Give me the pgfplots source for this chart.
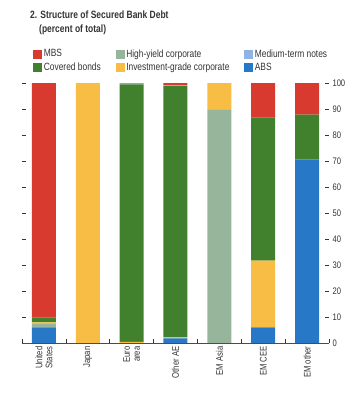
\documentclass[border=0pt]{standalone}
\usepackage{pgfplots}
\pgfplotsset{compat=1.18}
\usepackage{fontspec}
\setmainfont{Liberation Sans}[FakeStretch=0.8]
\definecolor{cMBS}{HTML}{D93A30}
\definecolor{cCov}{HTML}{41812E}
\definecolor{cHY}{HTML}{97B59A}
\definecolor{cIG}{HTML}{F8BD44}
\definecolor{cMTN}{HTML}{8DB4E2}
\definecolor{cABS}{HTML}{2878C8}
\definecolor{txt}{HTML}{333333}
\begin{document}
\begin{tikzpicture}[x=1pt,y=1pt]
\path[use as bounding box] (0,0) rectangle (364,400);
\node[anchor=base west,font=\bfseries\fontsize{10.6}{12}\selectfont,text=txt,inner sep=0] at (30,381) {2. Structure of Secured Bank Debt};
\node[anchor=base west,font=\bfseries\fontsize{10.6}{12}\selectfont,text=txt,inner sep=0] at (39,367) {(percent of total)};
\begin{axis}[
  at={(22pt,57pt)}, anchor=south west,
  scale only axis, width=307pt, height=260pt,
  ybar stacked, bar width=24pt,
  xmin=-0.5, xmax=6.5, ymin=0, ymax=100,
  axis x line*=bottom,
  y axis line style={draw=none},
  xtick={0,...,6},
  xticklabels={{United\\States},Japan,{Euro\\area},Other AE,EM Asia,EM CEE,EM other},
  major x tick style={draw=none},
  minor xtick={-0.5,0.5,...,6.5},
  minor tick length=4pt,
  tick align=inside,
  xticklabel style={rotate=90,anchor=east,align=right,font=\fontsize{9.6}{10}\selectfont,text=txt},
  ytick={0,10,...,100},
  ytick pos=both,
  yticklabel pos=right,
  major tick length=4pt,
  yticklabel style={font=\fontsize{9.5}{10}\selectfont,text=txt},
  /pgf/number format/assume math mode=true,
  tick style={color=black!80,line width=0.6pt},
  x axis line style={color=black!70,line width=0.6pt},
  legend columns=3,
  legend cell align=left,
  legend style={at={(rel axis cs:0.027,1.145)},anchor=north west,draw=none,fill=none,
    font=\fontsize{10.5}{11}\selectfont,text=txt,
    /tikz/every even column/.append style={column sep=13pt},
    row sep=0pt},
  legend image code/.code={\fill[#1] (0pt,-3.8pt) rectangle (8pt,4.2pt);},
]
\addlegendimage{cMBS,fill=cMBS}\addlegendentry{MBS}
\addlegendimage{cHY,fill=cHY}\addlegendentry{High-yield corporate}
\addlegendimage{cMTN,fill=cMTN}\addlegendentry{Medium-term notes}
\addlegendimage{cCov,fill=cCov}\addlegendentry{Covered bonds}
\addlegendimage{cIG,fill=cIG}\addlegendentry{Investment-grade corporate}
\addlegendimage{cABS,fill=cABS}\addlegendentry{ABS}
\addplot[fill=cABS,draw=none,forget plot] coordinates {(0,6) (1,0) (2,0) (3,1.8) (4,0) (5,6) (6,70.6)};
\addplot[fill=cHY,draw=none,forget plot] coordinates {(0,1.5) (1,0) (2,0) (3,0) (4,89.7) (5,0) (6,0)};
\addplot[fill=cIG,draw=none,forget plot] coordinates {(0,0.4) (1,100) (2,0.4) (3,0.5) (4,10.3) (5,25.7) (6,0)};
\addplot[fill=cCov,draw=none,forget plot] coordinates {(0,2) (1,0) (2,99.1) (3,96.5) (4,0) (5,55.1) (6,17.2)};
\addplot[fill=cMTN,draw=none,forget plot] coordinates {(0,0) (1,0) (2,0.3) (3,0.4) (4,0) (5,0) (6,0)};
\addplot[fill=cMBS,draw=none,forget plot] coordinates {(0,90.1) (1,0) (2,0.2) (3,0.8) (4,0) (5,13.2) (6,12.2)};
\end{axis}
\end{tikzpicture}
\end{document}
